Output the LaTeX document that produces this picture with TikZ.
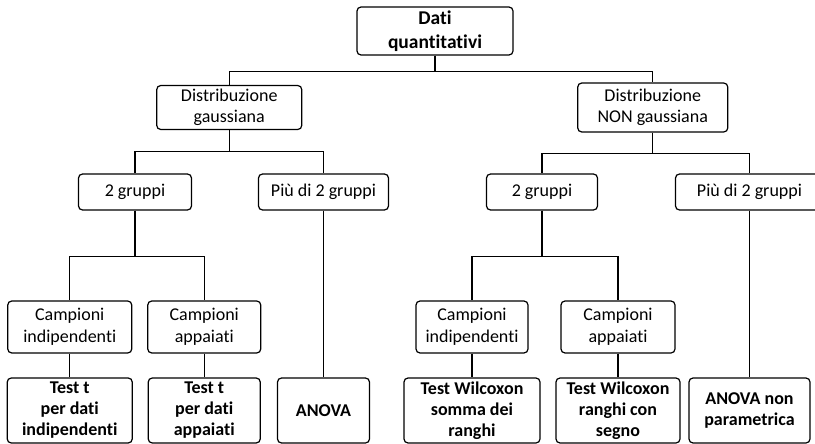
\documentclass[tikz,border=0pt]{standalone}
\usepackage{fontspec}
\setmainfont[Ligatures={NoCommon,NoRare,NoContextual}]{Carlito}

\begin{document}
\begin{tikzpicture}[%
	every node/.style = {shape=rectangle, rounded corners=4pt, draw, line width=1.2pt, align=center, inner sep=2pt, font=\fontsize{18}{21.5}\selectfont},
	edge from parent/.style = {draw, line width=1.1pt},
	test/.style = {font=\bfseries\fontsize{18}{21}\selectfont, minimum height=65pt},
	group/.style = {minimum height=36pt},
	sample/.style = {minimum height=52pt},
	straight/.style = {edge from parent path={(\tikzparentnode.south) -- (\tikzchildnode.north)}},
	level 1/.style={sibling distance=423.5pt, level distance=76.5pt,
	  edge from parent path={(\tikzparentnode.south) -- ++(0,-16pt) -| (\tikzchildnode.north)}},
	level 2/.style={sibling distance=188.5pt, level distance=84.5pt,
	  edge from parent path={(\tikzparentnode.south) -- ++(0,-21pt) -| (\tikzchildnode.north)}},
	level 3/.style={sibling distance=134.5pt, level distance=135pt,
	  edge from parent path={(\tikzparentnode.south) -- ++(0,-46pt) -| (\tikzchildnode.north)}},
	level 4/.style={level distance=83.5pt, straight}
	]
  \useasboundingbox (0,0) rectangle (815pt,-444pt);
  \node (dati) at (435pt,-31pt) [minimum width=156pt, minimum height=48pt, font=\bfseries\fontsize{19.5}{24.5}\selectfont] {Dati\\quantitativi}
    child [xshift=6pt] { node (gauss) [minimum width=145pt, minimum height=44pt] {Distribuzione\\gaussiana}
    		child { node (gruppiG) [group, minimum width=113pt] {2 gruppi}
    			child [xshift=2pt] { node (indipG) [sample, minimum width=124pt] {Campioni\\indipendenti}
    				child { node (testInd) [test, minimum width=125pt] {Test t\\per dati\\indipendenti}}}
    			child [xshift=2pt] { node (appG) [sample, minimum width=113pt] {Campioni\\appaiati}
    				child { node (testApp) [test, minimum width=112pt] {Test t\\per dati\\appaiati}}}}
    		child { node (piuG) [group, minimum width=130pt] {Più di 2 gruppi}
    			child [straight, level distance=218.5pt] { node (anova) [test, minimum width=92pt] {ANOVA}}}}
    child [xshift=6pt] { node (nonGauss) [minimum width=150pt, minimum height=49pt] {Distribuzione\\NON gaussiana}
    		child [xshift=-7pt, sibling distance=207.5pt] { node (gruppiN) [group, minimum width=111pt] {2 gruppi}
    			child [xshift=3pt, sibling distance=146pt] { node (indipN) [sample, minimum width=112pt] {Campioni\\indipendenti}
    				child { node (wSomma) [test, minimum width=136pt] {Test Wilcoxon\\somma dei\\ranghi}}}
    			child [xshift=3pt, sibling distance=146pt] { node (appN) [sample, minimum width=114pt] {Campioni\\appaiati}
    				child { node (wSegno) [test, minimum width=124pt] {Test Wilcoxon\\ranghi con\\segno}}}}
    		child [xshift=-7pt, sibling distance=207.5pt] { node (piuN) [group, minimum width=148pt] {Più di 2 gruppi}
    			child [straight, level distance=218.5pt] { node (anovaNP) [test, minimum width=121pt] {ANOVA non\\parametrica}}}};
\end{tikzpicture}
\end{document}
